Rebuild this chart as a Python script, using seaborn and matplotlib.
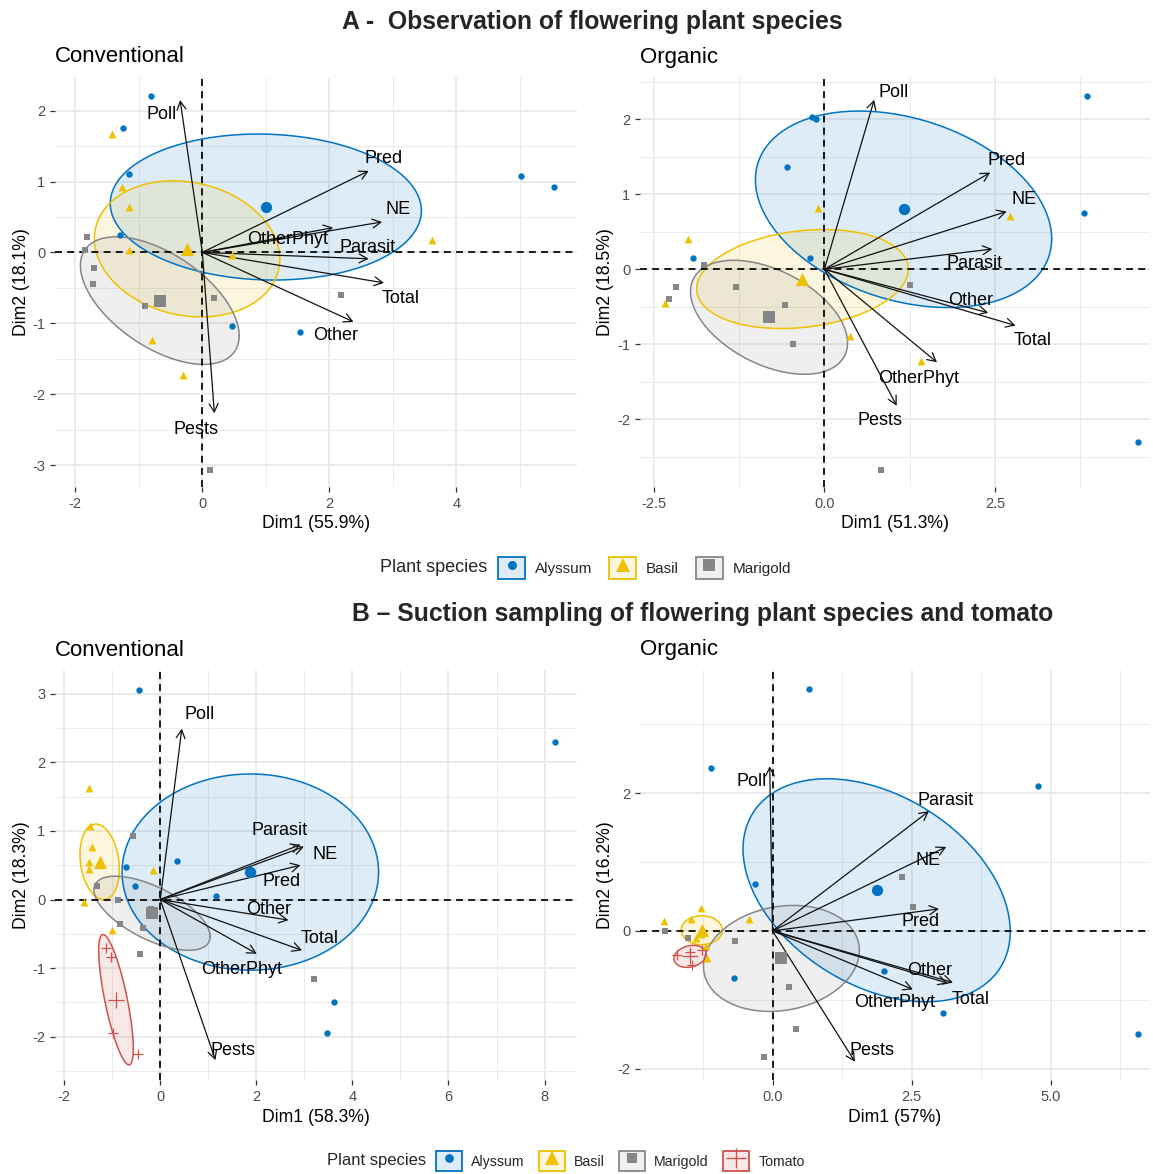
import numpy as np
import pandas as pd
import matplotlib
matplotlib.use("Agg")
import matplotlib.pyplot as plt
import seaborn as sns
from matplotlib.patches import Rectangle
from matplotlib.lines import Line2D
from matplotlib.colors import to_rgba

# ------------------------------------------------------------------ data
variables = ["Poll", "Pred", "NE", "OtherPhyt", "Parasit", "Total", "Other", "Pests"]
species_obs = ["Alyssum", "Basil", "Marigold"]
species_suc = ["Alyssum", "Basil", "Marigold", "Tomato"]

# A - observation, conventional
obs_conv_species = ["Alyssum"] * 8 + ["Basil"] * 8 + ["Marigold"] * 8
obs_conv_dim1 = [-0.81, -1.25, -1.16, -1.29, 0.47, 1.54, 5.02, 5.54,
                 -1.42, -1.26, -1.15, -1.15, -0.80, -0.30, 0.46, 3.62,
                 -1.82, -1.84, -1.70, -1.72, -0.91, 0.18, 0.12, 2.19]
obs_conv_dim2 = [2.20, 1.76, 1.10, 0.24, -1.04, -1.13, 1.08, 0.92,
                 1.67, 0.92, 0.64, 0.04, -1.23, -1.73, -0.04, 0.17,
                 0.22, 0.04, -0.22, -0.44, -0.76, -0.64, -3.07, -0.60]
obs_conv_mean_dim1 = [1.00, -0.24, -0.67]
obs_conv_mean_dim2 = [0.64, 0.05, -0.68]
obs_conv_ell_hx = [2.45, 1.46, 1.25]
obs_conv_ell_hy = [1.03, 0.96, 0.90]
obs_conv_ell_rho = [-0.05, -0.15, -0.55]
obs_conv_var_dim1 = [-0.35, 2.62, 2.83, 2.06, 2.62, 2.86, 2.38, 0.19]
obs_conv_var_dim2 = [2.15, 1.15, 0.43, 0.35, -0.09, -0.43, -0.98, -2.27]

# A - observation, organic
obs_org_species = ["Alyssum"] * 8 + ["Basil"] * 6 + ["Marigold"] * 8
obs_org_dim1 = [-0.18, -0.12, -0.55, -1.93, -0.21, 3.84, 3.81, 4.60,
                -2.00, -2.34, -0.09, 0.37, 2.72, 1.41,
                -1.76, -2.17, -2.28, -1.29, -0.57, -0.46, 1.25, 0.83]
obs_org_dim2 = [2.03, 2.01, 1.36, 0.15, 0.15, 2.31, 0.75, -2.30,
                0.40, -0.45, 0.82, -0.89, 0.71, -1.22,
                0.06, -0.23, -0.40, -0.24, -0.48, -0.99, -0.21, -2.68]
obs_org_mean_dim1 = [1.16, -0.32, -0.81]
obs_org_mean_dim2 = [0.80, -0.13, -0.64]
obs_org_ell_hx = [2.17, 1.55, 1.15]
obs_org_ell_hy = [1.31, 0.66, 0.76]
obs_org_ell_rho = [-0.30, 0.20, -0.45]
obs_org_var_dim1 = [0.73, 2.43, 2.67, 1.65, 2.46, 2.80, 2.40, 1.06]
obs_org_var_dim2 = [2.26, 1.29, 0.77, -1.24, 0.27, -0.75, -0.58, -1.82]

# B - suction sampling, conventional
suc_conv_species = ["Alyssum"] * 8 + ["Basil"] * 8 + ["Marigold"] * 8 + ["Tomato"] * 4
suc_conv_dim1 = [-0.45, -0.71, -0.53, 0.35, 1.17, 8.21, 3.61, 3.47,
                 -1.49, -1.47, -1.41, -1.49, -1.49, -0.16, -1.58, -1.01,
                 -0.57, -1.32, -0.87, -0.83, -0.36, -0.42, -0.19, 3.21,
                 -1.125, -1.02, -0.99, -0.47]
suc_conv_dim2 = [3.06, 0.48, 0.20, 0.56, 0.05, 2.29, -1.50, -1.95,
                 1.62, 1.07, 0.77, 0.55, 0.44, 0.43, -0.03, -0.45,
                 0.92, 0.20, 0.00, -0.35, -0.42, -0.80, -0.14, -1.16,
                 -0.71, -0.84, -1.94, -2.25]
suc_conv_mean_dim1 = [1.875, -1.26, -0.17, -0.92]
suc_conv_mean_dim2 = [0.40, 0.55, -0.20, -1.46]
suc_conv_ell_hx = [2.67, 0.41, 1.21, 0.36]
suc_conv_ell_hy = [1.43, 0.55, 0.54, 0.95]
suc_conv_ell_rho = [0.0, -0.20, -0.63, -0.75]
suc_conv_var_dim1 = [0.45, 2.92, 2.99, 2.01, 2.92, 2.95, 2.67, 1.15]
suc_conv_var_dim2 = [2.49, 0.50, 0.77, -0.79, 0.80, -0.74, -0.30, -2.34]

# B - suction sampling, organic
suc_org_species = ["Alyssum"] * 8 + ["Basil"] * 8 + ["Marigold"] * 8 + ["Tomato"] * 4
suc_org_dim1 = [0.65, -1.11, -0.32, -0.69, 4.76, 2.00, 3.06, 6.56,
                -1.95, -1.29, -1.47, -0.42, -1.38, -1.28, -1.17, -1.20,
                -1.93, -1.51, -0.68, 0.30, 0.43, -0.15, 2.33, 2.52,
                -1.72, -1.48, -1.45, -1.27]
suc_org_dim2 = [3.52, 2.37, 0.68, -0.68, 2.11, -0.58, -1.19, -1.50,
                0.15, 0.33, 0.18, 0.18, -0.11, -0.05, -0.40, -0.22,
                0.00, -0.11, -0.15, -0.82, -1.43, -1.83, 0.78, 0.34,
                -0.35, -0.30, -0.49, -0.28]
suc_org_mean_dim1 = [1.87, -1.27, 0.16, -1.48]
suc_org_mean_dim2 = [0.59, 0.01, -0.40, -0.37]
suc_org_ell_hx = [2.40, 0.37, 1.40, 0.29]
suc_org_ell_hy = [1.62, 0.21, 0.77, 0.16]
suc_org_ell_rho = [-0.37, 0.0, 0.15, 0.20]
suc_org_var_dim1 = [-0.05, 2.99, 3.12, 2.52, 2.81, 3.15, 3.24, 1.48]
suc_org_var_dim2 = [2.39, 0.32, 1.22, -0.85, 1.74, -0.76, -0.75, -1.90]

# axis breaks and tick labels
obs_conv_xticks = [-2, 0, 2, 4]
obs_conv_xticklabels = ["-2", "0", "2", "4"]
obs_conv_yticks = [-3, -2, -1, 0, 1, 2]
obs_conv_yticklabels = ["-3", "-2", "-1", "0", "1", "2"]
obs_org_xticks = [-2.5, 0.0, 2.5]
obs_org_xticklabels = ["-2.5", "0.0", "2.5"]
obs_org_yticks = [-2, -1, 0, 1, 2]
obs_org_yticklabels = ["-2", "-1", "0", "1", "2"]
suc_conv_xticks = [-2, 0, 2, 4, 6, 8]
suc_conv_xticklabels = ["-2", "0", "2", "4", "6", "8"]
suc_conv_yticks = [-2, -1, 0, 1, 2, 3]
suc_conv_yticklabels = ["-2", "-1", "0", "1", "2", "3"]
suc_org_xticks = [0.0, 2.5, 5.0]
suc_org_xticklabels = ["0.0", "2.5", "5.0"]
suc_org_yticks = [-2, 0, 2]
suc_org_yticklabels = ["-2", "0", "2"]

# ------------------------------------------------------------------ style
sns.set_theme(style="white")
plt.rcParams["font.family"] = ["Liberation Sans", "DejaVu Sans"]
plt.rcParams["axes.unicode_minus"] = False

palette = {"Alyssum": "#0073C2", "Basil": "#EFC000",
           "Marigold": "#868686", "Tomato": "#CD534C"}
markers = {"Alyssum": "o", "Basil": "^", "Marigold": "s", "Tomato": "+"}
point_size = {"Alyssum": 21, "Basil": 32, "Marigold": 24, "Tomato": 45}
mean_size = {"Alyssum": 66, "Basil": 90, "Marigold": 70, "Tomato": 125}
FILL_ALPHA = 0.13
GRID = "#EBEBEB"

W, H = 1153, 1174
fig = plt.figure(figsize=(W / 100, H / 100), dpi=100)


def ellipse_path(cx, cy, hx, hy, rho, n=240):
    t = np.linspace(0, 2 * np.pi, n)
    x = cx + hx * np.cos(t)
    y = cy + hy * (rho * np.cos(t) + np.sqrt(1 - rho ** 2) * np.sin(t))
    return x, y


def draw_panel(box, title, groups, species, d1, d2, m1, m2, ehx, ehy, erho,
               v1, v2, label_offsets, xlim, ylim, xticks, xticklabels,
               yticks, yticklabels, xlabel, ylabel, ylabel_px):
    left, top, right, bottom = box
    ax = fig.add_axes([left / W, 1 - bottom / H, (right - left) / W, (bottom - top) / H])
    hpx = bottom - top
    ax.set_xlim(*xlim)
    ax.set_ylim(*ylim)
    for s in ax.spines.values():
        s.set_visible(False)

    # grid: major at breaks, minor midway
    xs = np.array(xticks, dtype=float)
    ys = np.array(yticks, dtype=float)
    dx = xs[1] - xs[0]
    dy = ys[1] - ys[0]
    xminor = np.arange(xs[0] - dx / 2 - 2 * dx, xs[-1] + 3 * dx, dx)
    yminor = np.arange(ys[0] - dy / 2 - 2 * dy, ys[-1] + 3 * dy, dy)
    xmajor_all = np.arange(xs[0] - 2 * dx, xs[-1] + 3 * dx, dx)
    ymajor_all = np.arange(ys[0] - 2 * dy, ys[-1] + 3 * dy, dy)
    for v in xminor:
        ax.axvline(v, color=GRID, lw=0.7, zorder=0)
    for v in yminor:
        ax.axhline(v, color=GRID, lw=0.7, zorder=0)
    for v in xmajor_all:
        ax.axvline(v, color=GRID, lw=1.4, zorder=0)
    for v in ymajor_all:
        ax.axhline(v, color=GRID, lw=1.4, zorder=0)

    ax.set_xticks(xticks)
    ax.set_xticklabels(xticklabels)
    ax.set_yticks(yticks)
    ax.set_yticklabels(yticklabels)
    ax.tick_params(axis="both", which="major", length=3.5, width=0.9,
                   color="#333333", labelcolor="#4D4D4D", labelsize=10.5,
                   bottom=True, left=True, pad=3.5)
    ax.set_xlim(*xlim)
    ax.set_ylim(*ylim)

    # concentration ellipses
    for i, sp in enumerate(groups):
        ex, ey = ellipse_path(m1[i], m2[i], ehx[i], ehy[i], erho[i])
        ax.fill(ex, ey, color=to_rgba(palette[sp], FILL_ALPHA), lw=0, zorder=1)
        ax.plot(ex, ey, color=palette[sp], lw=1.1, zorder=2)

    # reference lines
    ax.axhline(0, color="black", lw=1.25, ls=(0, (4, 3)), zorder=3)
    ax.axvline(0, color="black", lw=1.25, ls=(0, (4, 3)), zorder=3)

    # variable arrows
    for name, x, y in zip(variables, v1, v2):
        ax.annotate("", xy=(x, y), xytext=(0, 0),
                    arrowprops=dict(arrowstyle="->,head_length=0.6,head_width=0.32",
                                    color="#111111", lw=0.9, shrinkA=0, shrinkB=0,
                                    mutation_scale=10), zorder=4)
        ox, oy = label_offsets[name]
        ax.annotate(name, xy=(x, y), xytext=(ox, oy), textcoords="offset pixels",
                    ha="center", va="center", fontsize=13, color="black", zorder=7)

    # individuals and group means
    df = pd.DataFrame({"Dim1": d1, "Dim2": d2, "species": species})
    means = pd.DataFrame({"Dim1": m1, "Dim2": m2, "species": groups})
    for sp in groups:
        sub = df[df["species"] == sp]
        msub = means[means["species"] == sp]
        if markers[sp] == "+":
            kw = dict(linewidth=0.9)
        else:
            kw = dict(linewidth=0)
        sns.scatterplot(data=sub, x="Dim1", y="Dim2", marker=markers[sp],
                        color=palette[sp], s=point_size[sp], ax=ax,
                        legend=False, zorder=5, **kw)
        sns.scatterplot(data=msub, x="Dim1", y="Dim2", marker=markers[sp],
                        color=palette[sp], s=mean_size[sp], ax=ax,
                        legend=False, zorder=6, **kw)

    ax.set_xlabel(xlabel, fontsize=12.7, color="black", va="center")
    ax.set_ylabel(ylabel, fontsize=12.7, color="black", va="center", ha="center")
    ax.xaxis.set_label_coords(0.5, -37 / hpx)
    ax.yaxis.set_label_coords((ylabel_px - left) / (right - left), 0.5)
    ax.text(0, 1 + 20 / hpx, title, transform=ax.transAxes, ha="left",
            va="center", fontsize=16, color="black")
    return ax


draw_panel((55, 77, 577, 487), "Conventional", species_obs, obs_conv_species,
           obs_conv_dim1, obs_conv_dim2, obs_conv_mean_dim1, obs_conv_mean_dim2,
           obs_conv_ell_hx, obs_conv_ell_hy, obs_conv_ell_rho,
           obs_conv_var_dim1, obs_conv_var_dim2,
           {"Poll": (-18, -14), "Pred": (15, 12), "NE": (16, 12),
            "OtherPhyt": (-46, -12), "Parasit": (-1, 11), "Total": (17, -16),
            "Other": (-18, -14), "Pests": (-18, -16)},
           (-2.32, 5.9), (-3.31, 2.475), obs_conv_xticks, obs_conv_xticklabels,
           obs_conv_yticks, obs_conv_yticklabels,
           "Dim1 (55.9%)", "Dim2 (18.1%)", 21)

draw_panel((640, 77, 1150, 487), "Organic", species_obs, obs_org_species,
           obs_org_dim1, obs_org_dim2, obs_org_mean_dim1, obs_org_mean_dim2,
           obs_org_ell_hx, obs_org_ell_hy, obs_org_ell_rho,
           obs_org_var_dim1, obs_org_var_dim2,
           {"Poll": (19, 7), "Pred": (16, 12), "NE": (17, 12),
            "OtherPhyt": (-18, -16), "Parasit": (-18, -14), "Total": (17, -15),
            "Other": (-18, 12), "Pests": (-17, -15)},
           (-2.70, 4.77), (-2.903, 2.564), obs_org_xticks, obs_org_xticklabels,
           obs_org_yticks, obs_org_yticklabels,
           "Dim1 (51.3%)", "Dim2 (18.5%)", 606)

draw_panel((55, 670, 577, 1080), "Conventional", species_suc, suc_conv_species,
           suc_conv_dim1, suc_conv_dim2, suc_conv_mean_dim1, suc_conv_mean_dim2,
           suc_conv_ell_hx, suc_conv_ell_hy, suc_conv_ell_rho,
           suc_conv_var_dim1, suc_conv_var_dim2,
           {"Poll": (18, 14), "Pred": (-19, -16), "NE": (21, -8),
            "OtherPhyt": (-15, -16), "Parasit": (-21, 14), "Total": (18, 12),
            "Other": (-20, 11), "Pests": (18, 10)},
           (-2.19, 8.675), (-2.63, 3.345), suc_conv_xticks, suc_conv_xticklabels,
           suc_conv_yticks, suc_conv_yticklabels,
           "Dim1 (58.3%)", "Dim2 (18.3%)", 21)

draw_panel((640, 670, 1150, 1080), "Organic", species_suc, suc_org_species,
           suc_org_dim1, suc_org_dim2, suc_org_mean_dim1, suc_org_mean_dim2,
           suc_org_ell_hx, suc_org_ell_hy, suc_org_ell_rho,
           suc_org_var_dim1, suc_org_var_dim2,
           {"Poll": (-18, -15), "Pred": (-18, -13), "NE": (-18, -14),
            "OtherPhyt": (-18, -13), "Parasit": (17, 11), "Total": (23, -16),
            "Other": (-23, 12), "Pests": (17, 11)},
           (-2.38, 6.78), (-2.166, 3.79), suc_org_xticks, suc_org_xticklabels,
           suc_org_yticks, suc_org_yticklabels,
           "Dim1 (57%)", "Dim2 (16.2%)", 606)

# section titles
fig.text(592 / W, 1 - 22 / H, "A -  Observation of flowering plant species",
         ha="center", va="center", fontsize=17.8, fontweight="bold")
fig.text(703 / W, 1 - 614 / H,
         "B \u2013 Suction sampling of flowering plant species and tomato",
         ha="center", va="center", fontsize=17.8, fontweight="bold")


# legends
def legend_handle(sp, scale):
    c = palette[sp]
    box = Rectangle((0, 0), 1, 1, facecolor=to_rgba(c, FILL_ALPHA), edgecolor=c, lw=1.3)
    if markers[sp] == "+":
        mk = Line2D([], [], marker="+", color=c, linestyle="None",
                    markersize=15 * scale, markeredgewidth=1.0)
    else:
        ms = {"o": 6.5, "^": 10, "s": 8}[markers[sp]] * scale
        mk = Line2D([], [], marker=markers[sp], color=c, linestyle="None",
                    markersize=ms, markeredgewidth=0)
    return (box, mk)


def add_legend(groups, key_left_px, center_px, title_left_px,
               label_size, title_size, key_px, spacing):
    handles = [legend_handle(sp, key_px / 27) for sp in groups]
    key_len = key_px / (label_size * 100 / 72)
    fig.legend(handles, groups, loc="center left",
               bbox_to_anchor=(key_left_px / W, 1 - center_px / H),
               ncol=len(groups), frameon=False, fontsize=label_size,
               handlelength=key_len, handleheight=key_len, handletextpad=0.65,
               columnspacing=spacing, borderpad=0, borderaxespad=0)
    fig.text(title_left_px / W, 1 - center_px / H, "Plant species",
             ha="left", va="center", fontsize=title_size)


add_legend(species_obs, 498, 568, 380, 11.0, 13.0, 27, 1.1)
add_legend(species_suc, 436, 1161, 327, 10.2, 12.0, 26, 1.0)

fig.savefig("out.png", dpi=100, facecolor="white")
